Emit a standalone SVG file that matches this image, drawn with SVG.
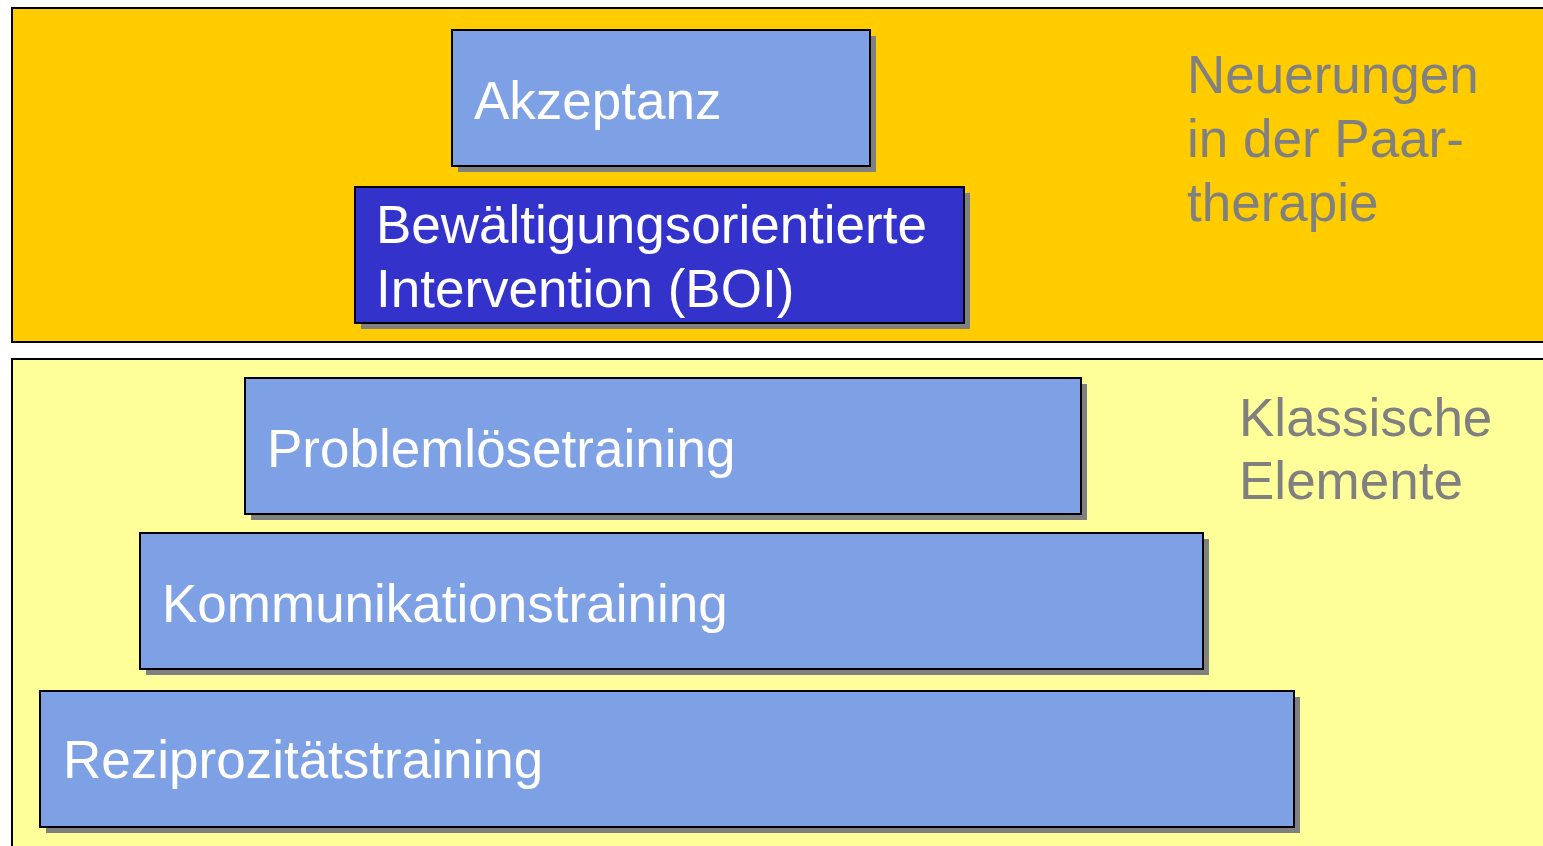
<svg xmlns="http://www.w3.org/2000/svg" width="1543" height="846" viewBox="0 0 1543 846">
<style>
.panel{stroke:#000;stroke-width:2}
.box{fill:#7EA0E4;stroke:#000;stroke-width:2}
.dark{fill:#3333CC}
.shadow{fill:#808080}
.t{font-family:"Liberation Sans",Arial,sans-serif;font-size:53px;fill:#fff}
.g{font-family:"Liberation Sans",Arial,sans-serif;font-size:53px;fill:#808080}
</style>
<rect width="1543" height="846" fill="#fff"/>
<rect class="panel" x="12" y="8" width="1540" height="334" fill="#FFCC00"/>
<rect class="panel" x="12" y="359" width="1540" height="500" fill="#FFFF99"/>
<g id="label-neu">
<text class="g" x="1187" y="93">Neuerungen</text>
<text class="g" x="1187" y="157">in der Paar-</text>
<text class="g" x="1187" y="221">therapie</text>
</g>
<g id="label-klass">
<text class="g" x="1239" y="436">Klassische</text>
<text class="g" x="1239" y="499">Elemente</text>
</g>
<g id="akzeptanz">
<rect class="shadow" x="458" y="36" width="418" height="136"/>
<rect class="box" x="452" y="30" width="418" height="136"/>
<text class="t" x="474" y="119">Akzeptanz</text>
</g>
<g id="boi">
<rect class="shadow" x="361" y="193" width="609" height="136"/>
<rect class="box dark" x="355" y="187" width="609" height="136"/>
<text class="t" x="376" y="243">Bewältigungsorientierte</text>
<text class="t" x="376" y="307">Intervention (BOI)</text>
</g>
<g id="problem">
<rect class="shadow" x="251" y="384" width="836" height="136"/>
<rect class="box" x="245" y="378" width="836" height="136"/>
<text class="t" x="267" y="467">Problemlösetraining</text>
</g>
<g id="kommunikation">
<rect class="shadow" x="146" y="539" width="1063" height="136"/>
<rect class="box" x="140" y="533" width="1063" height="136"/>
<text class="t" x="162" y="622">Kommunikationstraining</text>
</g>
<g id="reziprozitaet">
<rect class="shadow" x="46" y="697" width="1254" height="136"/>
<rect class="box" x="40" y="691" width="1254" height="136"/>
<text class="t" x="63" y="778">Reziprozitätstraining</text>
</g>
<g id="connectors"></g>
</svg>
